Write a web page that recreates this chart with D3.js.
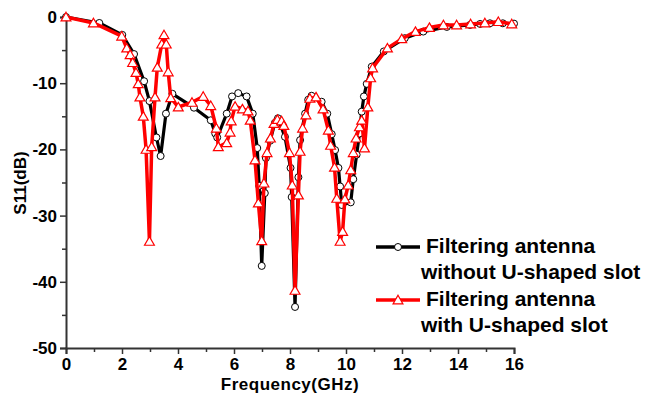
<!DOCTYPE html>
<html>
<head>
<meta charset="utf-8">
<script src="https://cdn.jsdelivr.net/npm/d3@7"></script>
<style>
  body { margin: 0; background: #fff; }
  text { font-family: "Liberation Sans", Arial, sans-serif; font-weight: bold; }
</style>
</head>
<body>
<script>
// without U-shaped slot (black, circles)
const freqA = [0, 1.19, 2.01, 2.43, 2.79, 2.98, 3.23, 3.38, 3.57, 3.8, 4.57, 5.17, 5.33, 5.4, 5.74, 5.93, 6.15, 6.45, 6.67, 6.83, 6.9, 6.99, 7.1, 7.14, 7.29, 7.46, 7.57, 7.82, 8.02, 8.06, 8.18, 8.3, 8.36, 8.54, 8.65, 8.77, 9.13, 9.33, 9.49, 9.61, 9.73, 9.79, 9.85, 10.17, 10.26, 10.38, 10.48, 10.56, 10.64, 10.74, 10.92, 11.35, 12.1, 12.76, 13.6, 14.43, 14.79, 15.14, 15.6, 16.0];
const s11A = [0, -0.9, -2.7, -5.6, -9.7, -12.7, -18.2, -21.0, -14.6, -11.6, -13.7, -15.6, -17.6, -18.2, -14.6, -12.0, -11.5, -12.0, -14.6, -19.8, -25.5, -37.6, -26.6, -21.3, -18.7, -16.0, -15.3, -18.1, -22.8, -27.2, -43.8, -24.2, -18.6, -14.6, -12.5, -11.9, -12.8, -14.6, -17.7, -20.1, -22.8, -25.6, -28.4, -28.0, -24.5, -20.8, -17.6, -14.3, -12.0, -10.1, -7.5, -5.2, -3.2, -2.2, -1.5, -1.2, -1.05, -0.95, -0.95, -1.0];

// with U-shaped slot (red, triangles)
const freqB = [0, 0.98, 1.99, 2.17, 2.29, 2.38, 2.5, 2.58, 2.64, 2.76, 2.86, 2.98, 3.06, 3.18, 3.26, 3.42, 3.5, 3.58, 3.65, 3.74, 4.01, 4.5, 4.9, 5.17, 5.37, 5.44, 5.74, 5.86, 5.9, 6.04, 6.3, 6.5, 6.58, 6.75, 6.87, 6.99, 7.07, 7.18, 7.3, 7.43, 7.55, 7.7, 7.78, 7.98, 8.08, 8.18, 8.3, 8.36, 8.45, 8.57, 8.71, 8.93, 9.18, 9.37, 9.45, 9.59, 9.67, 9.79, 9.88, 9.96, 10.08, 10.17, 10.26, 10.36, 10.48, 10.56, 10.66, 10.78, 10.88, 10.95, 11.48, 11.99, 12.48, 12.98, 13.48, 13.95, 14.45, 14.96, 15.44, 15.92];
const s11B = [0, -0.9, -2.9, -4.7, -5.7, -6.9, -8.4, -10.1, -12.1, -15.0, -20.0, -33.9, -19.6, -12.1, -7.6, -4.1, -2.7, -4.1, -8.3, -12.2, -13.6, -12.9, -12.0, -13.4, -16.8, -19.6, -19.0, -17.4, -15.7, -13.5, -13.9, -14.2, -15.6, -21.6, -28.1, -33.8, -25.1, -20.5, -18.3, -16.1, -15.5, -15.7, -16.4, -20.5, -25.4, -41.3, -26.9, -20.3, -16.8, -14.8, -12.3, -12.1, -13.9, -17.1, -19.4, -22.7, -27.4, -33.9, -32.4, -27.5, -25.4, -23.1, -20.5, -18.3, -16.6, -15.6, -19.8, -13.6, -9.2, -7.7, -4.7, -3.3, -2.2, -1.6, -1.2, -1.2, -1.05, -0.9, -0.7, -1.05];

const xTicks = [0, 2, 4, 6, 8, 10, 12, 14, 16];
const yTicks = [0, -10, -20, -30, -40, -50];
const legendLabels = [["Filtering antenna", "without U-shaped slot"], ["Filtering antenna", "with U-shaped slot"]];

const W = 645, H = 395;
const margin = { top: 17, right: 131, bottom: 47, left: 66 };
const width = W - margin.left - margin.right,
      height = H - margin.top - margin.bottom;

const svg = d3.select("body").append("svg")
    .attr("width", W).attr("height", H);
const g = svg.append("g")
    .attr("transform", `translate(${margin.left},${margin.top})`);

const x = d3.scaleLinear().domain([0, 16]).range([0, width]);
const y = d3.scaleLinear().domain([-50, 0]).range([height, 0]);

// minor ticks
g.append("g")
    .attr("transform", `translate(0,${height})`)
    .call(d3.axisBottom(x).tickValues(d3.range(1, 16, 2)).tickSize(4).tickFormat(""))
    .call(a => a.select(".domain").remove());
g.append("g")
    .call(d3.axisLeft(y).tickValues(d3.range(-45, 0, 10)).tickSize(4).tickFormat(""))
    .call(a => a.select(".domain").remove());

// major axes
const xAxis = g.append("g")
    .attr("transform", `translate(0,${height})`)
    .call(d3.axisBottom(x).tickValues(xTicks).tickSize(6).tickPadding(4).tickFormat(d3.format("d")));
const yAxis = g.append("g")
    .call(d3.axisLeft(y).tickValues(yTicks).tickSize(6).tickPadding(3).tickFormat(d => d === 0 ? "0" : "-" + Math.abs(d)));

g.selectAll(".domain").attr("stroke", "#333").attr("stroke-width", 2);
g.selectAll(".tick line").attr("stroke", "#333").attr("stroke-width", 1.5);
g.selectAll(".tick text").attr("fill", "#000").style("font-size", "17px");

// axis titles
svg.append("text")
    .attr("x", 290).attr("y", 390)
    .attr("text-anchor", "middle")
    .style("font-size", "17px")
    .style("letter-spacing", "0.5px")
    .text("Frequency(GHz)");
svg.append("text")
    .attr("transform", "translate(26,183) rotate(-90)")
    .attr("text-anchor", "middle")
    .style("font-size", "17px")
    .text("S11(dB)");

const line = d3.line().x(d => x(d[0])).y(d => y(d[1]));
const dataA = freqA.map((f, i) => [f, s11A[i]]);
const dataB = freqB.map((f, i) => [f, s11B[i]]);
const tri = d3.symbol().type(d3.symbolTriangle).size(42);

// black series
g.append("path").datum(dataA)
    .attr("d", line).attr("fill", "none")
    .attr("stroke", "#000").attr("stroke-width", 3.2).attr("stroke-linejoin", "round");
g.selectAll(".ptA").data(dataA).join("circle")
    .attr("class", "ptA")
    .attr("cx", d => x(d[0])).attr("cy", d => y(d[1])).attr("r", 3.5)
    .attr("fill", "#fff").attr("stroke", "#000").attr("stroke-width", 1);

// red series
g.append("path").datum(dataB)
    .attr("d", line).attr("fill", "none")
    .attr("stroke", "#ff0000").attr("stroke-width", 3.5).attr("stroke-linejoin", "round");
g.selectAll(".ptB").data(dataB).join("path")
    .attr("class", "ptB")
    .attr("d", tri)
    .attr("transform", d => `translate(${x(d[0])},${y(d[1]) + 1})`)
    .attr("fill", "#fff").attr("stroke", "#ff0000").attr("stroke-width", 1.2);

// legend
const legend = svg.append("g");
const legendY = [247, 300];
const legendColors = ["#000", "#ff0000"];
legendY.forEach((ly, i) => {
    legend.append("line")
        .attr("x1", 376).attr("x2", 420).attr("y1", ly).attr("y2", ly)
        .attr("stroke", legendColors[i]).attr("stroke-width", 3.5);
    if (i === 0) {
        legend.append("circle").attr("cx", 398).attr("cy", ly).attr("r", 3.5)
            .attr("fill", "#fff").attr("stroke", "#000").attr("stroke-width", 1);
    } else {
        legend.append("path").attr("d", tri)
            .attr("transform", `translate(398,${ly + 1})`)
            .attr("fill", "#fff").attr("stroke", "#ff0000").attr("stroke-width", 1.2);
    }
    legend.append("text")
        .attr("x", 426).attr("y", ly + 6)
        .style("font-size", "21px")
        .text(legendLabels[i][0]);
    legend.append("text")
        .attr("x", 421).attr("y", ly + 32)
        .style("font-size", "21px")
        .text(legendLabels[i][1]);
});
</script>
</body>
</html>
